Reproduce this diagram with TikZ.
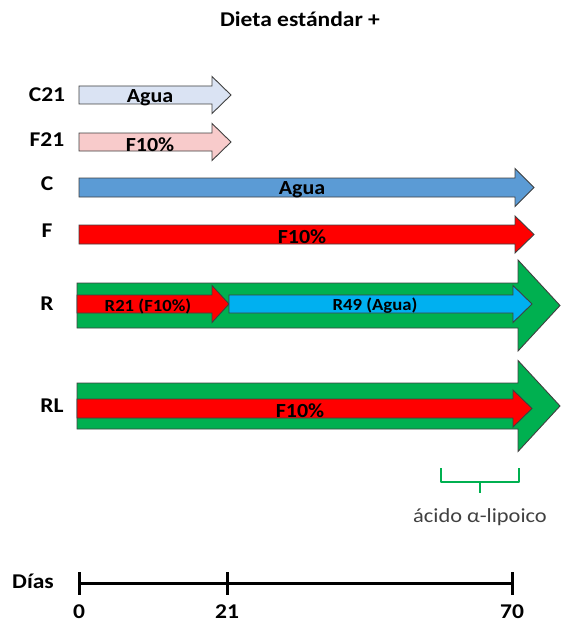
\documentclass[tikz,border=0pt]{standalone}
\usepackage{fontspec}
\setmainfont{Carlito}
\usetikzlibrary{positioning}
\definecolor{borde}{HTML}{404040}
\definecolor{azulclaro}{HTML}{DAE3F3}
\definecolor{rosa}{HTML}{F8CBCB}
\definecolor{azul}{HTML}{5B9BD5}
\definecolor{rojo}{HTML}{FF0000}
\definecolor{verde}{HTML}{00B050}
\definecolor{celeste}{HTML}{00B0F0}
\definecolor{gris}{HTML}{404040}
% block arrow: start x, tip x, centre y, body half, head half, head length, fill
\newcommand{\flecha}[7]{%
  \filldraw[fill=#7,draw=borde,line width=0.9pt,line join=miter]
    (#1,#3-#4) -- (#2-#6,#3-#4) -- (#2-#6,#3-#5) -- (#2,#3)
    -- (#2-#6,#3+#5) -- (#2-#6,#3+#4) -- (#1,#3+#4) -- cycle;}
\tikzset{
  grupo/.style={font=\bfseries\fontsize{21}{24}\selectfont,xscale=1.12},
  texto/.style={font=\bfseries\fontsize{20}{24}\selectfont,xscale=1.1},
  chico/.style={font=\bfseries\fontsize{17}{20}\selectfont,xscale=1.1},
  nota/.style={font=\fontsize{20}{24}\selectfont,xscale=1.12,text=gris}
}
\begin{document}
\begin{tikzpicture}[x=1pt,y=-1pt]
\useasboundingbox (0,0) rectangle (560,623);
\node[grupo] (titulo) at (300,19) {Dieta estándar +};
% groups
\node[grupo] (c21) at (47,95) {C21};
\node[grupo] (f21) at (47,140) {F21};
\node[grupo] (c) at (47,184) {C};
\node[grupo] (f) at (47,231) {F};
\node[grupo] (r) at (47,304) {R};
\node[grupo] (rl) at (52,406) {RL};
% arrows
\flecha{79}{231}{95}{9}{18.5}{19}{azulclaro}
\node[texto] (aguac21) at (150,98) {Agua};
\flecha{79}{231}{142}{9}{18.5}{19}{rosa}
\node[texto] (ff21) at (150,145) {F10\%};
\flecha{79}{534}{187.5}{9.5}{19}{19}{azul}
\node[texto] (aguac) at (302,190) {Agua};
\flecha{79}{534}{234.5}{9.5}{18.5}{19}{rojo}
\node[texto] (ff) at (302,237) {F10\%};
\flecha{77}{560}{305.5}{22.5}{45.5}{42}{verde}
\flecha{77}{229}{304}{9}{18.5}{17}{rojo}
\node[chico] (r21) at (148,306) {R21 (F10\%)};
\flecha{229}{532}{304}{9}{18.5}{19}{celeste}
\node[chico] (r49) at (375,306) {R49 (Agua)};
\flecha{77}{560}{406}{23}{45.5}{42}{verde}
\flecha{77}{532}{408.5}{9.5}{18.5}{19}{rojo}
\node[texto] (frl) at (300,411) {F10\%};
% lipoic acid bracket
\coordinate (bi) at (441,468);
\coordinate (bd) at (519,468);
\coordinate (bm) at (480,482);
\draw[verde,line width=2.8pt,line join=round] (bi) -- (bi|-bm) -- (bd|-bm) -- (bd);
\draw[verde,line width=2.8pt] (bm) -- ++(0,11) coordinate (bp);
\node[nota,below=12pt of bp] (acido) {ácido α-lipoico};
% days
\node[grupo] (dias) at (33,581) {Días};
\foreach \d/\x in {0/79,21/227,70/512}{
  \coordinate (t\d) at (\x,583);
  \draw[line width=3pt] (\x,572) -- (\x,595);
  \node[grupo] at (\x,612) {\d};
}
\draw[line width=3pt] (t0) -- (t70);
\end{tikzpicture}
\end{document}
